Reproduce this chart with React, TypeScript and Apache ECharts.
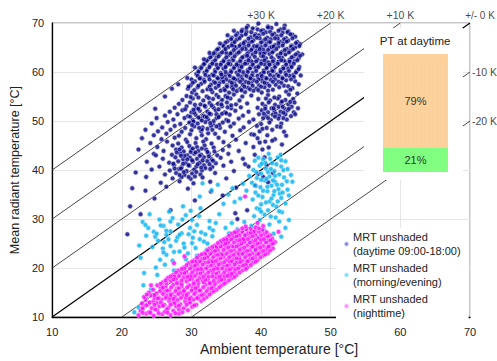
import React, { useEffect, useRef } from 'react';
import * as echarts from 'echarts';

// ---------- data ----------
const axisMin = 10;
const axisMax = 70;
const axisStep = 10;

const seriesNames = [
  'MRT unshaded\n(daytime 09:00-18:00)',
  'MRT unshaded\n(morning/evening)',
  'MRT unshaded\n(nighttime)',
];

const offsetsK = [30, 20, 10, 0, -10, -20];
const offsetLabels = ['+30 K', '+20 K', '+10 K', '+/- 0 K', '-10 K', '-20 K'];

const ptTitle = 'PT at daytime';
const ptCategories = ['daytime'];
const ptLowShare = [21];
const ptHighShare = [79];

const dayPoints = [
  [38.1,69.4],[39.6,69.9],[41.0,69.3],[42.2,69.8],[43.4,69.5],
  [37.3,68.6],[38.8,68.9],[40.3,68.5],[41.5,69.0],[42.8,68.7],[43.9,68.3],
  [36.6,67.9],[37.9,68.2],[39.2,67.7],[40.7,68.1],[41.9,67.8],[43.1,68.0],[44.5,67.6],
  [35.8,67.0],[37.2,67.4],[38.5,67.1],[39.7,67.5],[40.9,67.0],[42.3,67.3],[43.6,66.9],[44.9,67.2],
  [35.2,66.3],[36.5,66.6],[37.7,66.2],[38.9,66.5],[40.2,66.3],[41.4,66.7],[42.7,66.2],[43.9,66.4],[45.2,66.1],
  [34.5,65.5],[35.9,65.8],[37.1,65.6],[38.3,65.9],[39.5,65.4],[40.8,65.8],[42.0,65.5],[43.2,65.9],[44.4,65.4],[45.6,65.7],
  [33.9,64.8],[35.3,65.1],[36.4,64.9],[37.6,65.2],[38.8,64.8],[40.0,65.1],[41.2,64.9],[42.5,65.2],[43.7,64.7],[44.9,65.0],
  [33.4,64.1],[34.7,64.4],[35.8,64.0],[37.0,64.3],[38.2,64.1],[39.4,64.4],[40.6,64.0],[41.8,64.3],[43.0,64.1],[44.2,64.4],[45.3,63.9],
  [32.9,63.3],[34.1,63.6],[35.3,63.4],[36.5,63.7],[37.6,63.2],[38.8,63.6],[40.0,63.3],[41.2,63.7],[42.4,63.4],[43.5,63.6],[44.7,63.2],
  [32.4,62.6],[33.6,62.9],[34.7,62.5],[35.9,62.8],[37.1,62.6],[38.3,62.9],[39.5,62.5],[40.7,62.8],[41.8,62.6],[43.0,62.9],[44.1,62.5],[45.4,62.8],
  [31.9,61.8],[33.1,62.1],[34.3,61.9],[35.4,62.2],[36.6,61.8],[37.8,62.1],[38.9,61.9],[40.1,62.2],[41.3,61.8],[42.5,62.1],[43.6,61.9],[44.8,62.2],
  [31.5,61.1],[32.7,61.4],[33.8,61.0],[35.0,61.3],[36.2,61.1],[37.3,61.4],[38.5,61.0],[39.7,61.3],[40.9,61.1],[42.0,61.4],[43.2,61.0],[44.3,61.3],[45.5,61.0],
  [31.1,60.3],[32.3,60.6],[33.4,60.4],[34.6,60.7],[35.7,60.3],[36.9,60.6],[38.1,60.4],[39.2,60.7],[40.4,60.3],[41.6,60.6],[42.8,60.4],[43.9,60.7],[45.1,60.2],
  [30.7,59.6],[31.9,59.9],[33.0,59.5],[34.2,59.8],[35.3,59.6],[36.5,59.9],[37.6,59.5],[38.8,59.8],[40.0,59.6],[41.1,59.9],[42.3,59.5],[43.5,59.8],[44.6,59.4],
  [31.3,58.8],[32.5,59.1],[33.7,58.9],[34.8,59.2],[36.0,58.8],[37.1,59.1],[38.3,58.9],[39.5,59.2],[40.6,58.8],[41.8,59.1],[43.0,58.9],[44.1,59.2],
  [30.5,58.1],[31.8,58.4],[33.2,58.0],[34.4,58.3],[35.5,58.1],[36.7,58.4],[37.8,58.0],[39.0,58.3],[40.2,58.1],[41.4,58.4],[42.5,58.0],[43.6,58.3],
  [29.9,57.3],[31.4,57.6],[32.8,57.4],[34.0,57.7],[35.1,57.3],[36.2,57.6],[37.4,57.4],[38.6,57.7],[39.7,57.3],[40.9,57.6],[42.1,57.4],[43.3,57.2],
  [29.5,56.6],[30.9,56.9],[32.3,56.5],[33.5,56.8],[34.7,56.6],[35.8,56.9],[37.0,56.5],[38.1,56.8],[39.3,56.6],[40.5,56.9],[41.7,56.4],[44.5,56.7],
  [30.1,55.8],[31.6,56.1],[33.0,55.9],[34.2,56.2],[35.4,55.8],[36.5,56.1],[37.7,55.9],[38.9,56.2],[40.1,55.8],[43.6,56.0],[45.2,55.6],
  [36.0,62.4],[37.3,63.0],[38.6,62.2],[39.9,63.9],[41.0,62.0],[37.8,64.7],[39.0,65.3],[40.3,64.6],[41.5,65.1],[36.8,61.3],
  [38.0,61.8],[39.3,60.9],[40.5,61.6],[41.8,60.2],[35.6,61.6],[37.4,60.0],[38.7,59.3],[40.0,58.6],[34.9,60.0],[36.3,58.5],
  [42.6,63.0],[43.3,62.3],[39.8,66.9],[41.1,66.2],[42.4,66.8],[36.2,65.2],[35.0,63.9],[33.6,61.5],[34.4,58.9],[35.9,57.3],
  [45.9,63.6],[45.7,59.3],[44.9,58.1],[45.4,57.5],
  [37.9,69.0],[39.5,68.7],[41.0,69.1],[43.3,68.9],
  [37.2,68.3],[38.6,68.1],[40.0,68.4],[41.3,68.2],[42.5,68.4],[43.8,68.1],
  [36.4,67.5],[37.8,67.7],[39.1,67.4],[40.3,67.8],[41.6,67.6],[42.9,67.5],[44.2,67.7],
  [35.7,66.7],[36.9,66.9],[38.2,66.8],[39.4,67.0],[40.6,66.7],[42.0,66.9],[43.3,66.7],[44.5,66.9],
  [34.9,66.0],[36.2,66.1],[37.5,65.9],[38.7,66.2],[40.0,66.0],[41.3,66.1],[42.5,65.9],[43.7,66.2],[45.0,65.9],
  [34.6,65.3],[35.8,65.4],[36.9,65.3],[38.2,65.4],[39.4,65.2],[40.6,65.4],[41.8,65.2],[43.1,65.4],[44.3,65.2],[45.5,65.3],
  [33.7,64.6],[34.9,64.7],[36.1,64.5],[37.3,64.7],[38.6,64.5],[39.8,64.7],[41.0,64.5],[42.2,64.7],[43.4,64.5],[44.6,64.7],
  [33.2,63.8],[34.4,64.0],[35.6,63.8],[36.8,64.0],[38.0,63.7],[39.2,64.0],[40.4,63.8],[41.6,64.0],[42.8,63.8],[44.0,64.0],[45.0,63.6],
  [32.7,63.0],[33.9,63.2],[35.0,63.0],[36.2,63.2],[38.0,63.3],[39.1,63.1],[40.3,63.2],[41.5,63.0],[44.4,63.0],[45.6,63.3],
  [32.2,62.3],[33.4,62.4],[34.6,62.2],[37.0,62.2],[38.2,62.4],[39.3,62.2],[40.5,62.4],[41.7,62.2],[42.9,62.4],[44.1,62.1],[45.2,62.4],
  [31.8,61.6],[33.0,61.7],[34.2,61.5],[35.3,61.7],[36.5,61.5],[37.7,61.7],[38.8,61.5],[40.0,61.7],[41.2,61.5],[42.4,61.7],[43.6,61.5],[44.7,61.7],
  [31.4,60.8],[32.6,61.0],[33.8,60.8],[34.9,61.0],[36.1,60.8],[37.2,61.0],[38.4,60.7],[39.6,61.0],[40.8,60.8],[42.0,61.0],[43.2,60.7],[44.4,61.0],[45.4,60.6],
  [31.0,60.0],[32.2,60.2],[33.4,60.0],[35.7,60.0],[36.9,60.2],[38.1,60.0],[39.3,60.2],[40.4,59.9],[41.6,60.2],[42.8,60.0],[44.0,60.2],[45.0,59.9],
  [30.9,59.2],[32.0,59.4],[33.2,59.3],[34.3,59.5],[35.5,59.2],[36.7,59.4],[37.9,59.2],[40.1,59.2],[41.3,59.4],[42.5,59.2],[43.6,59.4],[44.7,59.0],
  [30.0,58.5],[31.2,58.7],[32.6,58.5],[33.8,58.7],[35.0,58.5],[36.1,58.7],[37.3,58.5],[38.5,58.7],[39.6,58.5],[40.8,58.7],[42.0,58.5],[43.1,58.7],[44.3,58.5],
  [30.2,57.8],[31.9,58.0],[33.4,57.8],[34.6,58.0],[35.8,57.8],[37.0,58.0],[38.2,57.8],[39.4,58.0],[40.5,57.8],[41.7,58.0],[42.9,57.8],
  [29.6,57.0],[31.0,57.2],[32.6,57.0],[33.9,57.2],[35.1,57.0],[36.4,57.2],[37.6,57.0],[38.8,57.2],[40.0,57.0],[41.2,57.2],[42.6,56.9],[43.9,57.1],
  [30.4,56.3],[32.8,56.4],[34.8,56.3],[36.0,56.5],[37.2,56.3],[38.4,56.5],[39.6,56.3],[41.0,56.2],[44.2,56.4],
  [29.3,55.1],[30.7,55.4],[32.2,55.0],[33.6,55.3],[34.9,55.1],[36.1,55.4],[37.3,55.0],[38.6,55.2],[41.0,55.3],[42.6,55.0],[44.0,55.4],
  [28.7,54.3],[30.2,54.6],[31.7,54.2],[33.1,54.5],[34.4,54.3],[35.6,54.6],[36.9,54.2],[39.6,54.5],[41.3,54.2],[42.4,54.6],[43.5,54.3],[44.6,54.5],
  [28.2,53.5],[29.8,53.8],[31.3,53.4],[32.6,53.7],[33.8,53.5],[35.1,53.8],[36.4,53.4],[38.0,53.6],[40.2,53.5],[41.1,53.8],[42.0,53.3],[42.9,53.7],[43.9,53.4],[44.8,53.8],
  [27.6,52.7],[29.3,53.0],[30.7,52.6],[32.0,52.9],[33.2,52.7],[34.4,53.0],[35.7,52.6],[37.1,52.8],[39.5,52.7],[40.6,53.0],[41.5,52.6],[42.5,52.9],[43.4,52.5],[44.4,52.9],[45.3,52.6],
  [26.9,51.9],[28.7,52.2],[30.0,51.8],[31.2,52.1],[32.3,51.9],[33.5,52.2],[34.8,51.8],[36.3,52.1],[38.2,51.9],[40.1,52.2],[41.0,51.8],[41.9,52.1],[42.8,51.9],[43.8,52.2],[44.7,51.8],
  [26.2,51.1],[28.0,51.4],[29.5,51.0],[30.6,51.3],[31.7,51.1],[32.8,51.4],[34.0,51.0],[35.5,51.3],[37.4,51.1],[39.7,51.4],[40.7,51.0],[41.7,51.3],[42.6,51.1],[43.5,51.4],[44.3,51.0],
  [25.0,50.6],[27.4,50.3],[29.0,50.6],[30.2,50.2],[31.3,50.5],[32.4,50.3],[33.6,50.6],[35.0,50.2],[36.8,50.5],[38.9,50.3],[40.3,50.6],[41.4,50.2],[42.5,50.5],[43.7,50.3],
  [24.3,49.5],[26.6,49.8],[28.4,49.4],[29.7,49.7],[30.9,49.5],[32.0,49.8],[33.1,49.4],[34.5,49.7],[36.1,49.5],[38.3,49.8],[40.0,49.4],[41.2,49.7],[42.9,49.5],
  [25.8,48.7],[27.6,49.0],[29.1,48.6],[30.4,48.9],[31.6,48.7],[32.8,49.0],[34.1,48.6],[35.6,48.9],[37.5,48.7],[39.4,49.0],[40.8,48.6],[42.3,48.9],
  [23.4,48.2],[25.2,47.9],[27.0,48.2],[28.6,47.8],[30.0,48.1],[31.4,47.9],[33.0,48.2],[34.8,47.8],[37.0,48.1],[39.8,47.9],[41.6,48.2],[43.3,47.8],
  [24.6,47.1],[26.4,47.4],[28.2,47.0],[29.8,47.3],[31.5,47.1],[33.4,47.4],[35.9,47.0],[38.6,47.3],[40.9,47.1],
  [22.9,46.5],[25.7,46.3],[27.6,46.6],[29.2,46.2],[30.7,46.5],[32.1,46.3],[33.9,46.6],[36.4,46.2],[39.5,46.5],[42.0,46.3],
  [24.1,45.5],[26.5,45.8],[28.1,45.4],[29.4,45.7],[30.6,45.5],[31.7,45.8],[32.9,45.4],[34.6,45.7],[37.8,45.5],[40.6,45.8],
  [31.0,52.5],[32.6,51.5],[33.9,52.4],[31.9,50.9],[33.2,50.0],[34.4,51.5],[30.4,51.7],[32.9,53.2],[35.2,52.8],[34.0,49.2],[31.5,48.3],[32.4,47.5],
  [29.9,54.9],[31.0,54.8],[32.5,54.7],[33.9,54.9],[35.2,54.8],[30.5,53.3],[31.9,53.1],[34.3,53.4],[35.7,53.2],[29.1,52.4],
  [30.3,52.3],[33.6,51.4],[35.0,51.6],[29.8,50.9],[31.0,50.7],[32.2,50.8],[33.9,50.8],[30.3,49.9],[31.5,50.1],[32.7,49.6],
  [35.3,50.0],[30.1,49.2],[31.1,48.6],[32.3,48.4],[33.6,48.9],
  [40.7,54.6],[41.9,54.8],[43.0,54.0],[44.2,53.9],[40.6,52.5],[41.8,52.6],[43.1,52.9],[44.0,52.5],[40.4,51.5],[42.1,51.5],
  [43.2,51.7],[44.9,51.4],[41.0,50.6],[42.0,50.9],[43.2,50.6],
  [25.1,44.7],[27.3,45.0],[28.6,44.6],[29.7,44.9],[30.8,44.7],[31.9,45.0],[33.2,44.6],[35.4,44.9],[38.9,44.7],
  [26.0,43.9],[27.8,44.2],[28.9,43.8],[30.0,44.1],[31.0,43.9],[32.1,44.2],[33.3,43.8],[34.5,44.1],[36.8,43.9],[40.2,44.2],
  [24.6,43.3],[27.2,43.1],[28.4,43.4],[29.4,43.0],[30.4,43.3],[31.4,43.1],[32.5,43.4],[33.7,43.0],[35.3,43.3],[39.1,43.1],
  [25.9,42.3],[27.7,42.6],[28.8,42.2],[29.8,42.5],[30.8,42.3],[31.8,42.6],[32.9,42.2],[34.2,42.5],[37.4,42.3],[40.5,42.6],
  [23.6,41.7],[26.8,41.5],[28.1,41.8],[29.2,41.4],[30.2,41.7],[31.2,41.5],[32.3,41.8],[33.5,41.4],[35.7,41.7],
  [25.4,40.7],[27.5,41.0],[28.6,40.6],[29.7,40.9],[30.7,40.7],[31.8,41.0],[33.0,40.6],[34.6,40.9],[38.2,40.7],[40.8,41.0],
  [24.3,40.1],[26.9,39.9],[28.2,40.2],[29.3,39.8],[30.4,40.1],[31.5,39.9],[32.7,40.2],[36.1,39.8],
  [26.2,39.1],[27.8,39.4],[29.0,39.0],[30.1,39.3],[31.3,39.1],[33.4,39.4],[39.6,39.2],
  [23.5,38.6],[27.3,38.3],[28.6,38.6],[29.9,38.2],[31.6,38.5],[35.0,38.3],
  [25.6,37.4],[28.3,37.7],[30.3,37.3],[32.7,37.6],[41.0,37.5],
  [29.0,42.9],[30.1,42.0],[31.2,42.9],[29.6,41.0],[30.9,41.2],[32.0,40.4],[28.5,40.3],[29.9,43.7],[31.5,44.4],[30.5,38.7],[28.3,39.0],[32.3,43.7],
  [27.9,43.6],[28.5,42.9],[29.4,42.2],[30.6,43.6],[31.6,42.0],[32.5,42.8],[27.4,41.3],[28.8,41.3],[31.4,40.5],[32.6,41.2],
  [28.9,39.6],[30.7,39.6],[29.6,38.6],[27.6,40.3],[33.1,41.9],[30.2,44.4],[28.3,44.2],
  [23.4,35.8],[26.4,36.6],[29.5,36.2],[32.8,35.6],[36.4,36.4],[22.7,31.0],[27.0,31.8],[30.5,33.8],[36.3,31.2],[36.6,30.0],
  [38.0,31.8],[24.7,34.2],[21.2,32.6],[34.5,34.8],[40.3,38.6],[41.7,39.4],[39.2,36.8],[37.7,41.2],[20.8,26.9],[21.5,36.3],
  [26.2,55.0],[24.8,52.5],[27.2,56.6],[28.1,57.5],[29.4,58.8],[30.5,60.9],[31.8,62.6],[32.6,63.9],[34.1,65.8],[35.2,67.5],[36.1,68.4],
  [39.0,47.2],[40.2,48.4],[41.6,46.0],[42.8,48.8],[43.6,47.0],[41.1,44.6],[43.0,45.2],[39.8,45.6],[22.0,39.5],[24.9,43.0],[22.4,44.2],
];

const twilightPoints = [
  [41.1,43.3],[39.1,41.9],[42.4,42.6],[40.3,42.2],[43.5,41.8],[41.6,41.4],[39.8,40.9],[42.9,40.7],[40.7,40.3],[38.9,40.0],
  [41.9,39.8],[43.8,40.2],[40.0,39.3],[42.6,39.1],[41.2,38.7],[39.4,38.4],[43.3,38.5],[44.3,39.0],[40.5,37.9],[42.0,37.6],
  [38.7,37.4],[41.5,36.8],[43.0,37.0],[39.9,36.5],[42.5,36.1],[40.9,35.7],[39.2,35.4],[43.8,36.0],[41.8,34.9],[40.2,34.5],
  [42.9,34.3],[38.8,34.0],[41.2,33.6],[43.5,33.2],[40.0,33.0],[42.2,32.5],[39.4,32.2],[41.0,31.8],[43.0,31.4],[40.5,30.9],
  [42.1,30.3],[39.0,30.6],[44.0,34.8],[37.9,35.8],[38.3,38.8],[44.5,37.6],[40.6,41.5],[42.8,43.1],[41.4,40.2],[40.8,38.2],
  [42.7,35.2],[41.7,32.9],
  [39.6,42.5],[41.3,42.3],[42.9,42.0],[40.1,41.3],[42.2,41.2],[43.2,40.0],[41.0,39.6],[39.3,39.6],[42.0,38.8],[40.0,38.0],
  [41.7,37.9],[43.7,37.7],[39.1,36.9],[40.9,36.6],[42.3,37.0],[40.3,35.8],[41.9,35.7],[39.6,34.8],[41.5,34.2],[43.1,35.4],
  [40.7,33.4],[42.4,33.6],[39.8,32.0],[42.6,31.6],[41.4,30.5],[40.0,31.5],
  [35.9,36.3],[37.0,34.2],[36.2,33.5],[35.3,35.0],[37.4,37.2],[34.6,33.1],
  [31.6,37.3],[31.2,34.6],[32.9,35.9],[33.8,37.0],
  [37.6,29.4],[38.6,28.6],[39.8,29.8],[41.2,28.9],[42.6,29.5],[43.5,28.2],[40.4,27.8],[38.9,27.2],[41.8,27.0],[39.5,26.3],
  [37.8,26.8],[40.7,25.6],[38.3,25.0],[36.9,24.5],[39.2,23.8],[37.5,22.9],[38.8,21.6],[36.4,21.0],[37.9,20.2],[42.9,26.4],
  [44.0,29.8],[36.6,27.9],[35.8,29.2],
  [23.0,29.4],[23.8,28.2],[23.5,26.6],[24.6,27.4],[26.0,28.6],[26.4,26.8],[27.3,30.2],[28.8,32.6],[29.2,30.8],[31.3,32.2],
  [32.6,29.6],[33.5,29.2],[34.9,28.2],[35.4,27.1],[23.4,28.8],[25.2,25.6],[26.4,27.6],[27.8,25.6],[28.6,27.1],[29.8,28.2],
  [30.2,26.2],[30.6,24.1],[31.4,27.3],[32.6,28.2],[26.4,22.7],[25.5,21.7],[24.9,20.1],[26.2,20.7],[27.3,21.5],[28.3,23.4],
  [22.7,22.1],[23.1,16.5],[24.2,15.7],[23.5,14.1],[22.4,12.0],[21.8,11.0],[27.0,24.5],[28.9,25.0],[29.5,23.0],[31.8,25.4],
  [33.0,26.5],[34.2,25.3],[30.1,29.8],[28.1,28.9],[27.0,29.5],[25.4,29.9],[24.4,24.3],[25.9,24.0],[29.2,21.8],[30.8,22.5],
  [32.2,23.7],[33.6,24.0],[35.1,24.8],[36.0,25.9],[26.8,31.5],[24.0,31.0],[25.1,18.6],[27.5,19.5],[23.2,19.0],[31.1,30.6],
  [29.9,31.7],[34.0,31.0],[28.0,26.3],[26.1,25.3],[24.8,26.4],[30.4,27.5],[32.0,26.9],[22.5,24.6],[24.5,14.5],[25.7,16.2],
  [26.5,15.0],
  [27.0,27.5],[28.3,26.8],[29.6,26.9],[29.0,24.2],[30.1,25.1],[31.2,25.9],[27.5,23.3],[26.7,25.9],[25.0,27.0],[30.8,28.8],
  [28.7,29.9],[26.0,23.2],[32.3,25.0],[33.1,27.7],[25.6,28.7],
];

const nightPoints = [
  [22.4,10.4],[23.5,10.7],[24.6,10.3],[25.8,10.6],[27.0,10.4],[28.2,10.7],
  [22.7,11.3],[23.9,11.0],[25.1,11.4],[26.2,11.1],[27.4,11.3],[28.7,11.0],[29.5,11.4],
  [23.0,12.1],[24.3,11.8],[25.4,12.2],[26.7,11.9],[27.8,12.2],[28.9,11.8],[30.1,12.1],
  [22.9,12.8],[23.8,12.6],[25.0,12.9],[26.1,12.5],[27.3,12.8],[28.4,12.6],[29.6,12.9],[30.7,12.5],
  [23.4,13.5],[24.5,13.2],[25.7,13.6],[26.8,13.3],[28.0,13.5],[29.1,13.2],[30.3,13.6],[31.4,13.3],
  [23.2,14.1],[24.2,14.4],[25.3,14.0],[26.5,14.3],[27.6,14.1],[28.8,14.4],[29.9,14.0],[31.1,14.3],[32.2,14.1],
  [23.9,15.0],[25.0,14.8],[26.1,15.1],[27.2,14.7],[28.4,15.0],[29.5,14.8],[30.6,15.1],[31.8,14.7],[32.9,15.0],
  [24.5,15.6],[25.6,15.9],[26.8,15.5],[27.9,15.8],[29.0,15.6],[30.2,15.9],[31.3,15.5],[32.5,15.8],[33.6,15.6],
  [25.1,16.5],[26.3,16.2],[27.4,16.6],[28.6,16.3],[29.7,16.5],[30.9,16.2],[32.0,16.6],[33.2,16.3],[34.3,16.5],
  [25.9,17.1],[27.0,17.4],[28.2,17.0],[29.3,17.3],[30.5,17.1],[31.6,17.4],[32.8,17.0],[33.9,17.3],[35.0,17.1],
  [26.6,18.0],[27.8,17.7],[28.9,18.1],[30.1,17.8],[31.2,18.0],[32.4,17.7],[33.5,18.1],[34.7,17.8],[35.8,18.0],
  [27.4,18.6],[28.5,18.9],[29.7,18.5],[30.8,18.8],[32.0,18.6],[33.1,18.9],[34.3,18.5],[35.4,18.8],[36.5,18.6],
  [28.1,19.5],[29.3,19.2],[30.4,19.6],[31.6,19.3],[32.7,19.5],[33.9,19.2],[35.0,19.6],[36.2,19.3],[37.3,19.5],
  [28.9,20.1],[30.0,20.4],[31.2,20.0],[32.3,20.3],[33.5,20.1],[34.6,20.4],[35.8,20.0],[36.9,20.3],[38.0,20.1],
  [29.6,21.0],[30.8,20.7],[31.9,21.1],[33.1,20.8],[34.2,21.0],[35.4,20.7],[36.5,21.1],[37.7,20.8],[38.8,21.0],
  [30.4,21.6],[31.5,21.9],[32.7,21.5],[33.8,21.8],[35.0,21.6],[36.1,21.9],[37.3,21.5],[38.4,21.8],[39.5,21.6],
  [31.1,22.5],[32.3,22.2],[33.4,22.6],[34.6,22.3],[35.7,22.5],[36.9,22.2],[38.0,22.6],[39.2,22.3],[40.3,22.5],
  [31.9,23.1],[33.0,23.4],[34.2,23.0],[35.3,23.3],[36.5,23.1],[37.6,23.4],[38.8,23.0],[39.9,23.3],[41.0,23.1],
  [32.6,24.0],[33.8,23.7],[34.9,24.1],[36.1,23.8],[37.2,24.0],[38.4,23.7],[39.5,24.1],[40.7,23.8],[41.7,24.0],
  [33.4,24.6],[34.5,24.9],[35.7,24.5],[36.8,24.8],[38.0,24.6],[39.1,24.9],[40.3,24.5],[41.4,24.8],
  [34.2,25.5],[35.3,25.2],[36.5,25.6],[37.6,25.3],[38.8,25.5],[39.9,25.2],[41.1,25.6],[42.0,25.3],
  [35.0,26.1],[36.1,26.4],[37.3,26.0],[38.4,26.3],[39.6,26.1],[40.7,26.4],[41.6,26.0],
  [35.8,27.0],[36.9,26.7],[38.1,27.1],[39.2,26.8],[40.4,27.0],[41.3,26.7],
  [36.7,27.6],[37.9,27.9],[39.1,27.5],[40.2,27.8],
  [37.8,28.5],[39.2,28.3],[40.3,28.6],
  [23.0,11.7],[24.8,11.6],[26.5,11.6],[28.2,11.6],[24.0,13.0],[25.6,13.0],[27.6,12.9],[29.8,13.0],[24.7,13.9],[26.9,13.8],
  [29.2,13.9],[31.0,13.8],[25.5,15.3],[27.7,15.3],[30.0,15.4],[32.2,15.3],[26.4,16.9],[28.6,16.8],[31.0,16.9],[33.4,16.8],
  [27.6,18.3],[30.0,18.4],[32.5,18.3],[34.8,18.4],[29.0,19.9],[31.4,19.8],[33.8,19.9],[36.3,19.8],[30.6,21.3],[33.0,21.3],
  [35.5,21.4],[37.9,21.3],[32.0,22.9],[34.4,22.8],[36.8,22.9],[39.4,22.8],[33.6,24.3],[36.0,24.4],[38.6,24.3],[40.9,24.2],
  [35.1,25.8],[37.5,25.9],[40.0,25.8],[36.5,27.3],[38.9,27.4],[37.8,20.7],[35.7,18.5],[34.1,17.6],[31.8,17.1],[36.9,21.8],
  [37.7,34.6],[24.2,16.5],[39.5,29.2],[42.5,27.4],[27.5,21.0],[29.0,22.4],
  [23.0,10.9],[24.1,10.9],[25.3,10.8],[26.6,10.9],[27.7,10.8],
  [23.5,12.4],[24.7,12.5],[25.9,12.3],[27.0,12.5],[28.2,12.3],[29.3,12.5],[30.4,12.4],
  [25.2,13.8],[26.3,13.9],[27.4,13.7],[28.5,13.9],[29.7,13.7],[30.8,13.9],[31.8,13.7],
  [23.6,14.6],[24.7,14.5],[25.9,14.7],[27.0,14.5],[28.1,14.7],[29.3,14.5],[30.4,14.7],[31.5,14.5],[32.6,14.6],
  [26.5,15.4],[28.9,15.3],[31.2,15.4],[33.2,15.3],
  [25.9,16.0],[27.1,16.1],[28.2,15.9],[29.4,16.1],[30.6,15.9],[31.7,16.1],[32.9,15.9],[34.0,16.1],
  [25.6,16.8],[27.9,16.9],[30.3,16.8],[32.6,16.9],[34.7,16.8],
  [26.3,17.5],[27.4,17.7],[28.6,17.5],[29.7,17.7],[30.9,17.5],[32.0,17.6],[33.2,17.4],[34.3,17.6],[35.4,17.5],
  [27.0,18.3],[28.2,18.4],[29.4,18.2],[30.5,18.4],[31.7,18.2],[33.0,18.3],[34.0,18.2],[35.2,18.4],[36.2,18.2],
  [27.8,19.1],[29.0,19.0],[30.1,19.1],[31.3,18.9],[32.4,19.1],[33.6,18.9],[34.7,19.1],[35.8,18.9],[36.9,19.1],
  [28.6,19.8],[29.8,19.9],[30.9,19.7],[32.1,19.9],[33.2,19.7],[34.4,19.9],[35.5,19.7],[36.7,19.9],[37.8,19.8],
  [29.3,20.6],[30.5,20.5],[31.6,20.7],[32.8,20.5],[33.9,20.7],[35.1,20.5],[36.2,20.7],[37.4,20.5],[38.5,20.6],
  [30.1,21.3],[31.2,21.4],[32.4,21.2],[33.5,21.4],[34.7,21.2],[35.8,21.4],[37.0,21.2],[38.1,21.4],[39.2,21.3],
  [30.8,22.1],[31.9,22.0],[33.1,22.2],[34.2,22.0],[35.4,22.2],[36.5,22.0],[37.7,22.2],[38.8,22.0],[39.9,22.2],
  [31.5,22.8],[32.7,22.9],[33.8,22.7],[35.0,22.9],[36.1,22.7],[37.3,22.9],[38.4,22.7],[39.6,22.9],[40.6,22.8],
  [32.3,23.6],[33.4,23.5],[34.6,23.7],[35.7,23.5],[36.9,23.7],[38.0,23.5],[39.2,23.7],[40.3,23.5],[41.3,23.6],
  [33.0,24.3],[34.2,24.4],[35.3,24.2],[36.5,24.4],[37.6,24.2],[38.8,24.4],[39.9,24.2],[41.1,24.4],
  [33.8,25.1],[34.9,25.0],[36.1,25.2],[37.2,25.0],[38.4,25.2],[39.5,25.0],[40.7,25.2],[41.7,25.0],
  [34.6,25.8],[35.7,25.9],[36.9,25.7],[38.1,25.9],[39.2,25.7],[40.4,25.9],[41.4,25.7],
  [35.4,26.6],[36.5,26.5],[37.7,26.7],[38.8,26.5],[40.0,26.7],[41.0,26.5],
  [36.2,27.3],[37.3,27.4],[38.5,27.2],[39.7,27.4],[40.8,27.3],
  [37.3,28.1],[38.5,28.0],[39.7,28.1],
];

const seriesPoints = [dayPoints, twilightPoints, nightPoints];
const seriesColors = ['#000080', '#00B0F0', '#FF00FF'];
const seriesBorders = ['#b8b8e8', '#b2e6fb', '#ffb8ff'];

// ---------- component ----------
const FONT = 'Liberation Sans, Arial, sans-serif';

export default function App() {
  const ref = useRef<HTMLDivElement>(null);

  useEffect(() => {
    if (!ref.current) return;
    const chart = echarts.init(ref.current, undefined, { renderer: 'svg' });

    const lineEnds = (k: number) => {
      const x0 = Math.max(axisMin, axisMin - k);
      const x1 = Math.min(axisMax, axisMax - k);
      return [[x0, x0 + k], [x1, x1 + k]];
    };

    const refLineSeries = offsetsK.map((k) => ({
      type: 'line',
      data: lineEnds(k),
      symbol: 'none',
      silent: true,
      z: 1,
      lineStyle: { color: k === 0 ? '#000' : '#333', width: k === 0 ? 1.2 : 0.9 },
      xAxisIndex: 0,
      yAxisIndex: 0,
    }));

    const labelSeries = {
      type: 'scatter',
      symbolSize: 0,
      silent: true,
      clip: false,
      z: 3,
      xAxisIndex: 0,
      yAxisIndex: 0,
      itemStyle: { color: 'transparent' },
      data: offsetsK.map((k, i) => {
        const end = lineEnds(k)[1];
        const atTop = end[1] === axisMax;
        return {
          value: end,
          label: {
            show: true,
            formatter: offsetLabels[i],
            position: atTop ? 'top' : 'right',
            distance: atTop ? 3 : 2,
            offset: k === 0 ? [10, 0] : [0, 0],
            fontSize: k === 0 ? 10 : 10.5,
            color: '#111',
            fontFamily: FONT,
          },
        };
      }),
    };

    const scatterSeries = seriesPoints.map((pts, i) => ({
      type: 'scatter',
      name: seriesNames[i],
      data: pts,
      symbol: 'circle',
      symbolSize: 4.6,
      z: 2,
      xAxisIndex: 0,
      yAxisIndex: 0,
      itemStyle: { color: seriesColors[i], borderColor: seriesBorders[i], borderWidth: 0.8 },
    }));

    const barLabel = {
      show: true,
      position: 'inside',
      formatter: '{c}%',
      color: '#333',
      fontSize: 11,
      fontFamily: FONT,
    };

    chart.setOption({
      animation: false,
      textStyle: { fontFamily: FONT },
      grid: [
        { left: 48, right: 27, top: 23, bottom: 41, show: true, borderColor: '#8c8c8c', borderWidth: 1 },
        { left: 383, top: 54, width: 65, height: 118 },
      ],
      xAxis: [
        {
          type: 'value',
          min: axisMin,
          max: axisMax,
          interval: axisStep,
          gridIndex: 0,
          name: 'Ambient temperature [°C]',
          nameLocation: 'middle',
          nameGap: 22,
          nameTextStyle: { fontSize: 14, color: '#222', padding: [0, 0, 0, 36] },
          axisLine: { show: true, lineStyle: { color: '#000', width: 1.3 } },
          axisTick: { show: false },
          axisLabel: { fontSize: 11, color: '#222', margin: 9 },
          splitLine: { show: true, lineStyle: { color: '#e6e6e6', width: 1 } },
        },
        { type: 'category', gridIndex: 1, data: ptCategories, show: false },
      ],
      yAxis: [
        {
          type: 'value',
          min: axisMin,
          max: axisMax,
          interval: axisStep,
          gridIndex: 0,
          name: 'Mean radiant temperature [°C]',
          nameLocation: 'middle',
          nameGap: 15,
          nameTextStyle: { fontSize: 12.5, color: '#222' },
          axisLine: { show: true, lineStyle: { color: '#000', width: 1.3 } },
          axisTick: { show: false },
          axisLabel: { fontSize: 11, color: '#222', margin: 8 },
          splitLine: { show: true, lineStyle: { color: '#e6e6e6', width: 1 } },
        },
        { type: 'value', gridIndex: 1, min: 0, max: 100, show: false },
      ],
      legend: {
        data: seriesNames,
        orient: 'vertical',
        left: 336,
        top: 228,
        padding: [2, 8, 4, 8],
        backgroundColor: '#ffffff',
        icon: 'circle',
        itemWidth: 3,
        itemHeight: 3,
        itemGap: 3,
        textStyle: { fontSize: 11, color: '#222', lineHeight: 14, fontFamily: FONT },
        z: 6,
      },
      graphic: [
        {
          type: 'rect',
          shape: { x: 364, y: 28, width: 99, height: 152 },
          style: { fill: '#ffffff' },
          silent: true,
          z: 5,
        },
        {
          type: 'text',
          x: 415,
          y: 41,
          silent: true,
          z: 7,
          style: { text: ptTitle, fontSize: 11.5, fill: '#222', align: 'center', verticalAlign: 'middle', fontFamily: FONT },
        },
      ],
      series: [
        ...refLineSeries,
        ...scatterSeries,
        labelSeries,
        {
          type: 'bar',
          xAxisIndex: 1,
          yAxisIndex: 1,
          stack: 'pt',
          data: ptLowShare,
          barWidth: '100%',
          z: 8,
          silent: true,
          itemStyle: { color: '#80FF80' },
          label: barLabel,
        },
        {
          type: 'bar',
          xAxisIndex: 1,
          yAxisIndex: 1,
          stack: 'pt',
          data: ptHighShare,
          barWidth: '100%',
          z: 8,
          silent: true,
          itemStyle: {
            color: '#FBD3A0',
            decal: {
              symbol: 'rect',
              symbolSize: 1,
              color: '#FBD09A',
              backgroundColor: '#FFEEDA',
              dashArrayX: [3, 1],
              dashArrayY: [3, 1],
              rotation: 0,
            },
          },
          label: barLabel,
        },
      ],
    });

    return () => chart.dispose();
  }, []);

  return <div ref={ref} style={{ width: 497, height: 361, position: 'absolute', left: 0, top: 0 }} />;
}
